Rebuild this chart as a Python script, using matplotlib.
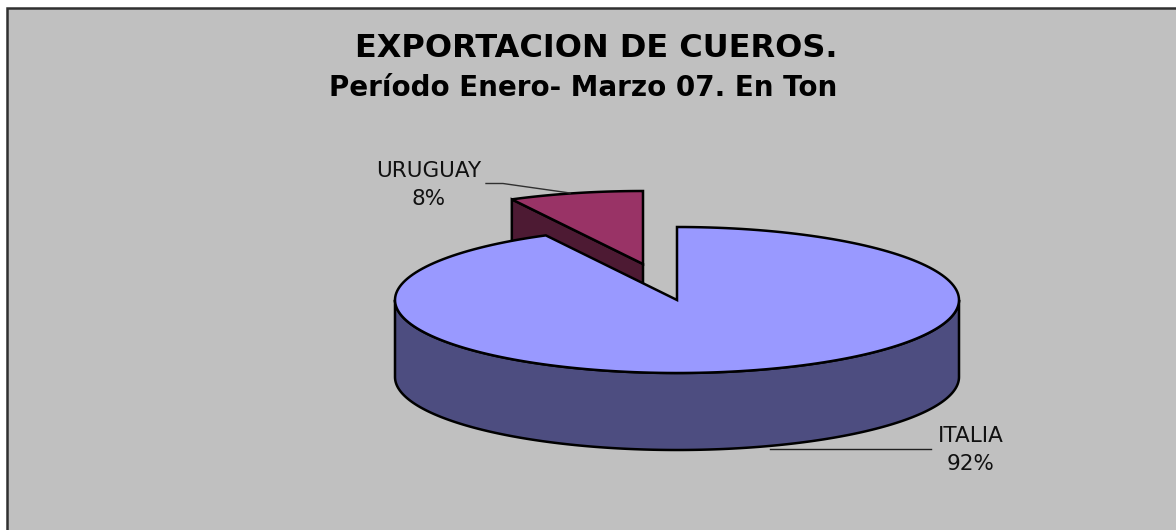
import numpy as np
import matplotlib
matplotlib.use("Agg")
import matplotlib.pyplot as plt
from matplotlib.patches import Polygon, Rectangle

# -----------------------
# Data
# -----------------------
countries = ["ITALIA", "URUGUAY"]
shares = [92.3, 7.7]
top_colors = ["#9999FF", "#993366"]
side_colors = ["#4D4D80", "#4D1A33"]

# -----------------------
# Pie geometry (pixels)
# -----------------------
cx, cy = 677, 300
rx, ry = 282, 73
depth = 77
explode = (-34, -36)
edge_lw = 1.8


def rim(a0, a1, ox=0, oy=0, n=200):
    # angles in degrees, clockwise from 12 o'clock
    a = np.radians(np.linspace(a0, a1, n))
    return np.column_stack([cx + ox + rx * np.sin(a), cy + oy - ry * np.cos(a)])


fig = plt.figure(figsize=(11.76, 5.30), dpi=100, facecolor="white")
ax = fig.add_axes([0, 0, 1, 1])
ax.set_xlim(0, 1176)
ax.set_ylim(530, 0)
ax.axis("off")

ax.add_patch(Rectangle((6.5, 7.5), 1200, 560, fc="#C0C0C0", ec="#303030", lw=1.8))

# -----------------------
# Uruguay slice (behind)
# -----------------------
end_it = 360 * shares[0] / sum(shares)
ox, oy = explode
arc = rim(end_it, 360, ox, oy)
apex = np.array([cx + ox, cy + oy])
edge = arc[0]
cut_side = np.array([apex, edge, edge + [0, depth], apex + [0, depth]])
ax.add_patch(Polygon(cut_side, fc=side_colors[1], ec="black", lw=edge_lw, joinstyle="miter"))
ax.add_patch(Polygon(np.vstack([apex, arc]), fc=top_colors[1], ec="black", lw=edge_lw, joinstyle="miter"))

# -----------------------
# Italia slice
# -----------------------
front = rim(90, 270)
wall = np.vstack([front, front[::-1] + [0, depth]])
ax.add_patch(Polygon(wall, fc=side_colors[0], ec="black", lw=edge_lw, joinstyle="round"))
ax.add_patch(Polygon(np.vstack([[cx, cy], rim(0, end_it)]), fc=top_colors[0], ec="black", lw=edge_lw, joinstyle="miter"))

# -----------------------
# Leader lines
# -----------------------
ax.plot([486, 503, 570], [183.5, 183.5, 193], color="#303030", lw=1)
ax.plot([770, 931], [448.5, 448.5], color="#202020", lw=1, zorder=1)

# -----------------------
# Text
# -----------------------
ax.text(596.5, 57, "EXPORTACION DE CUEROS.", ha="center", va="baseline", fontsize=23, fontweight="bold", color="black")
ax.text(583, 96, "Período Enero- Marzo 07. En Ton", ha="center", va="baseline", fontsize=20, fontweight="bold", color="black")
ax.text(429, 177, countries[1], ha="center", va="baseline", fontsize=15.5, color="#111111")
ax.text(429, 205, f"{shares[1]:.0f}%", ha="center", va="baseline", fontsize=15.5, color="#111111")
ax.text(971, 442, countries[0], ha="center", va="baseline", fontsize=15.5, color="#111111")
ax.text(971, 470, f"{shares[0]:.0f}%", ha="center", va="baseline", fontsize=15.5, color="#111111")

fig.savefig("out.png", dpi=100, facecolor="white")
